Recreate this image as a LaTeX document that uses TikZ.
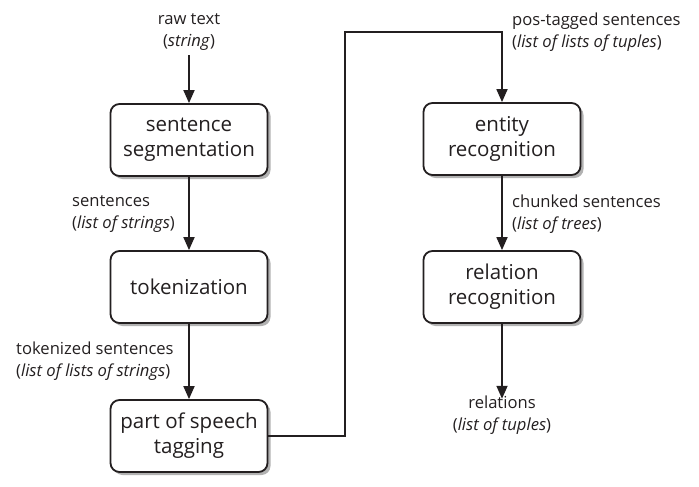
\documentclass[tikz,border=0pt]{standalone}
\usepackage{fontspec}
\setmainfont{Open Sans}
\usetikzlibrary{arrows.meta,shadows}
\definecolor{ink}{RGB}{35,31,32}
\begin{document}
\begin{tikzpicture}[x=1pt,y=-1pt,
  proc/.style={draw=ink, line width=1.8pt, rounded corners=9pt, fill=white,
    minimum width=157pt, minimum height=72pt, align=center, text=ink,
    font=\fontsize{20.5}{25}\selectfont,
    drop shadow={shadow xshift=3pt, shadow yshift=-3pt, opacity=0.3, fill=black}},
  lbl/.style={font=\fontsize{16.6}{21.5}\selectfont, inner sep=0pt, text=ink},
  flow/.style={draw=ink, line width=1.8pt, -{Triangle[width=11pt,length=13pt]}}
]
\useasboundingbox (0,0) rectangle (699,487);
\node[proc] (seg) at (189,140) {sentence\\segmentation};
\node[proc] (tok) at (189,287) {tokenization};
\node[proc] (pos) at (189,436) {part of speech\\tagging};
\node[proc] (ent) at (502,139) {entity\\recognition};
\node[proc] (rel) at (502,287) {relation\\recognition};

\node[lbl, align=center] (raw) at (189,32) {raw text\\(\textit{string})};
\node[lbl, align=left, anchor=west] (sents) at (72,214) {sentences\\(\textit{list of strings})};
\node[lbl, align=left, anchor=west] (toks) at (16,361) {tokenized sentences\\(\textit{list of lists of strings})};
\node[lbl, align=left, anchor=west] (post) at (512,32) {pos-tagged sentences\\(\textit{list of lists of tuples})};
\node[lbl, align=left, anchor=west] (chunk) at (512,214) {chunked sentences\\(\textit{list of trees})};
\node[lbl, align=center] (rels) at (502,415) {relations\\(\textit{list of tuples})};

\coordinate (bend) at (345,32);
\draw[flow] (raw.south) ++(0,5) -- (seg.north);
\draw[flow] (seg.south) -- (tok.north);
\draw[flow] (tok.south) -- (pos.north);
\draw[flow] (pos.east) -| (bend) -| (ent.north);
\draw[flow] (ent.south) -- (rel.north);
\draw[flow] (rel.south) -- ([yshift=-3pt]rels.north);
\end{tikzpicture}
\end{document}
